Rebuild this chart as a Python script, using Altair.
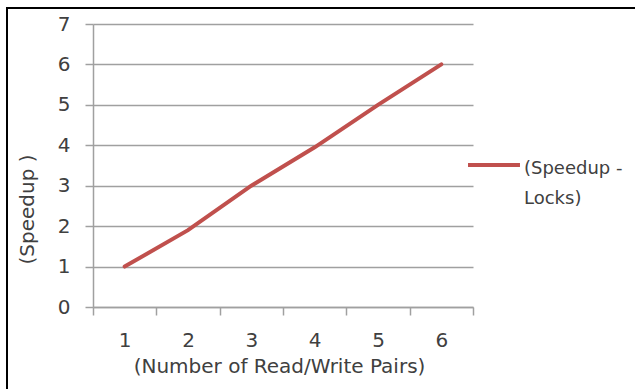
import altair as alt
import pandas as pd

pairs = [1, 2, 3, 4, 5, 6]
speedup = [1.0, 1.9, 3.0, 3.95, 5.0, 6.0]
series = "(Speedup - Locks)"

df = pd.DataFrame({"pairs": pairs, "speedup": speedup, "series": [series] * len(pairs)})

W, H = 380, 283
FONT = "DejaVu Sans"
TXT = "#404040"
GRID = "#a0a0a0"

line = alt.Chart(df).mark_line(strokeWidth=4, strokeCap="round", clip=False).encode(
    x=alt.X("pairs:O", title="(Number of Read/Write Pairs)",
            scale=alt.Scale(type="band", paddingInner=0, paddingOuter=0),
            axis=alt.Axis(labelAngle=0, labelFontSize=20, labelColor=TXT, labelFont=FONT,
                          labelLineHeight=20, labelBaseline="middle",
                          titleFontSize=20, titleColor=TXT, titleFont=FONT, titleFontWeight="normal",
                          titleX=186, titleY=59, titleBaseline="middle",
                          domainColor=GRID, domainWidth=1.5, tickColor=GRID, tickWidth=1.5,
                          tickSize=8, tickBand="extent", labelPadding=25)),
    y=alt.Y("speedup:Q", title="(Speedup )",
            scale=alt.Scale(domain=[0, 7], nice=False),
            axis=alt.Axis(values=[0, 1, 2, 3, 4, 5, 6, 7], labelFontSize=20, labelColor=TXT,
                          labelFont=FONT, labelLineHeight=20,
                          titleFontSize=20, titleColor=TXT, titleFont=FONT,
                          titleFontWeight="normal", titleX=-66, titleY=185,
                          titleBaseline="middle", titleAlign="center",
                          domainColor=GRID, domainWidth=1.5,
                          tickColor=GRID, tickWidth=1.5, tickSize=8, gridColor=GRID,
                          gridWidth=1.5, labelPadding=15)),
    color=alt.Color("series:N", scale=alt.Scale(range=["#C0504D"]),
                    legend=alt.Legend(title=None, orient="none", legendX=373, legendY=122,
                                      symbolType="M-1,-0.35L1,-0.35", symbolSize=2700,
                                      symbolStrokeWidth=4,
                                      labelFontSize=18, labelColor=TXT, labelFont=FONT,
                                      labelExpr="['(Speedup -', 'Locks)']",
                                      labelOffset=2,
                                      labelBaseline="alphabetic")),
)

border = pd.DataFrame({"x": [0], "y": [0]})
left_border = alt.Chart(border).mark_rule(color="black", strokeWidth=2, clip=False).encode(
    x=alt.value(-86), y=alt.value(-16), y2=alt.value(368))
top_border = alt.Chart(border).mark_rule(color="black", strokeWidth=2, clip=False).encode(
    x=alt.value(-87), x2=alt.value(545), y=alt.value(-16))

chart = alt.layer(line, left_border, top_border).properties(
    width=W, height=H,
    autosize=alt.AutoSizeParams(type="none"),
    padding={"left": 93, "top": 24, "right": 162, "bottom": 82},
    background="white",
).configure(view={"stroke": "transparent"}, style={"guide-label": {"lineHeight": 30}})

chart.save("out.html", embed_options={"renderer": "svg", "actions": False})
